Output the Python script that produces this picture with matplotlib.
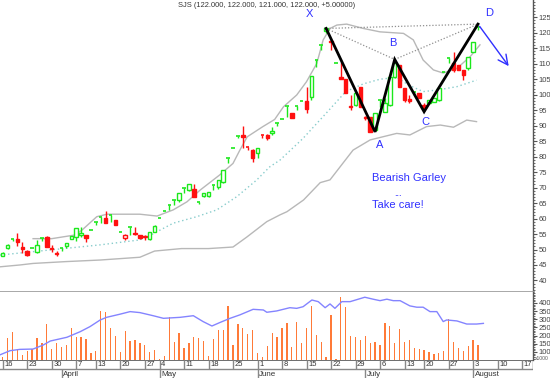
import matplotlib.pyplot as plt
from matplotlib.patches import Rectangle

plt.rcParams['font.family'] = ['Liberation Sans', 'DejaVu Sans']

# ---- daily candles, trading-day index 0..97 ----
opens = [48.0, 50.5, 53.5, 53.4, 50.9, 49.5, 50.6, 49.1, 53.6, 54.1,
         50.6, 49.0, 50.4, 51.1, 53.5, 54.0, 54.8, 54.7, 56.3, 58.8,
         60.6, 60.1, 61.2, 59.5, 55.5, 53.6, 57.2, 55.4, 54.7, 54.3,
         53.3, 55.8, 60.1, 62.5, 64.4, 66.0, 66.0, 69.8, 69.2, 69.4,
         65.4, 67.3, 67.3, 70.8, 70.3, 71.9, 79.5, 82.7, 86.8, 87.0,
         83.2, 82.1, 81.1, 87.0, 87.0, 87.6, 90.8, 92.1, 96.4, 94.0,
         96.4, 98.0, 98.0, 99.4, 111.2, 116.1, 120.5, 117.4, 110.4, 105.6,
         105.0, 96.3, 96.7, 102.4, 92.9, 92.9, 88.6, 98.3, 94.5, 96.7,
         105.8, 109.6, 102.1, 98.5, 101.0, 100.5, 96.7, 97.2, 97.7, 98.3,
         107.2, 111.8, 110.1, 109.6, 108.0, 108.5, 113.9, 122.0]
highs = [49.2, 51.7, 53.5, 55.4, 52.5, 49.7, 50.6, 53.1, 53.6, 54.3,
         51.5, 49.6, 50.4, 52.0, 54.4, 57.0, 57.2, 54.8, 56.3, 58.8,
         60.6, 62.4, 61.2, 59.5, 55.5, 55.0, 57.2, 57.4, 54.7, 54.6,
         55.8, 57.8, 60.1, 62.5, 64.4, 66.0, 68.4, 69.8, 71.2, 71.2,
         65.4, 68.4, 68.7, 70.8, 72.4, 75.7, 79.5, 82.7, 86.8, 89.9,
         83.2, 82.3, 82.9, 87.0, 87.2, 89.7, 90.8, 92.1, 96.4, 94.0,
         96.4, 98.0, 102.6, 106.0, 111.2, 116.1, 121.4, 117.7, 110.4, 110.7,
         105.0, 99.9, 100.5, 102.4, 93.2, 92.9, 94.0, 98.3, 99.0, 105.8,
         111.0, 109.6, 102.1, 99.9, 101.0, 100.5, 97.2, 98.3, 98.8, 102.1,
         107.2, 111.8, 113.9, 109.6, 108.0, 112.1, 117.1, 122.0]
lows = [47.8, 50.3, 52.8, 51.1, 48.9, 47.9, 50.6, 48.8, 52.6, 50.7,
        49.3, 48.0, 49.4, 50.6, 53.5, 52.8, 54.0, 52.5, 56.3, 58.0,
        58.5, 58.5, 59.0, 57.9, 55.5, 53.1, 54.7, 54.7, 53.4, 53.2,
        53.0, 55.6, 60.1, 62.5, 62.8, 64.4, 65.5, 68.2, 69.0, 66.8,
        64.8, 67.0, 67.0, 69.2, 69.5, 71.5, 77.8, 82.7, 86.0, 82.7,
        82.1, 78.2, 79.6, 86.0, 85.5, 87.0, 89.8, 92.1, 92.9, 92.4,
        95.1, 98.0, 94.0, 98.2, 109.0, 114.4, 120.0, 114.4, 110.4, 105.2,
        100.5, 95.1, 96.5, 96.1, 91.8, 88.0, 88.4, 96.1, 94.3, 96.5,
        105.5, 102.6, 97.7, 97.2, 99.9, 98.9, 94.8, 97.0, 97.5, 98.0,
        107.2, 110.1, 107.4, 108.0, 104.8, 108.0, 113.7, 121.0]
closes = [49.0, 51.5, 53.5, 52.5, 50.1, 48.2, 50.6, 51.5, 53.6, 50.9,
          50.3, 48.6, 50.4, 52.0, 54.4, 57.0, 55.2, 53.6, 56.3, 58.8,
          60.6, 58.7, 61.2, 57.9, 55.5, 54.6, 57.2, 55.0, 53.6, 53.9,
          55.8, 57.6, 60.1, 62.5, 64.4, 66.0, 68.4, 69.8, 71.2, 67.1,
          65.4, 68.4, 68.7, 70.8, 72.4, 75.7, 79.5, 82.7, 86.8, 86.2,
          83.0, 79.5, 82.7, 86.8, 85.9, 88.2, 90.8, 92.1, 96.4, 92.4,
          96.4, 98.0, 95.4, 106.0, 111.2, 116.1, 121.4, 117.0, 110.4, 105.2,
          100.5, 96.0, 100.5, 96.1, 92.6, 88.0, 94.0, 98.3, 97.2, 105.8,
          110.1, 102.6, 98.3, 98.1, 101.0, 98.9, 95.6, 98.3, 98.8, 102.1,
          107.2, 111.8, 108.0, 108.0, 106.5, 112.1, 117.1, 122.0]
red_hollow = [25]

volume = [67, 184, 224, 112, 82, 108, 116, 184, 153, 270,
          116, 157, 129, 143, 245, 190, 190, 180, 92, 108,
          351, 347, 245, 198, 98, 230, 165, 171, 153, 143,
          102, 112, 60, 76, 312, 161, 218, 126, 155, 190,
          188, 167, 76, 178, 235, 235, 384, 143, 270, 249,
          210, 233, 92, 71, 137, 218, 192, 245, 280, 129,
          286, 157, 245, 382, 204, 163, 71, 327, 55, 435,
          374, 200, 190, 173, 198, 157, 163, 143, 276, 259,
          157, 239, 163, 173, 122, 116, 112, 102, 88, 96,
          106, 300, 163, 126, 108, 137, 173, 143]

# ---- Bollinger bands (day index, price) ----
upper_x = [6.2, 10, 14.8, 16.2, 19.2, 21.3, 28, 31.5, 34.8, 37.6, 40.3, 44.3,
           47, 48.4, 49.9, 53.1, 55.5, 57.3, 60, 62, 64.1, 65.4, 66.8, 68.2,
           70.2, 73.6, 77, 81.8, 83.8, 85.8, 87.9, 89.9, 92.7, 95.4, 97.4]
upper_y = [53.5, 53.5, 54.7, 56.3, 60.6, 61.4, 61.4, 60.8, 62.8, 65.4, 69.2, 74.1,
           77.8, 82.1, 86.4, 89.7, 92.0, 96.1, 99.9, 104.2, 110.1, 117.7, 121.4, 122.5,
           122.8, 121.4, 120.3, 119.8, 117.7, 111.2, 108.0, 107.0, 108.5, 112.3, 116.1]
mid_x = [-0.6, 6.2, 13.1, 19.9, 28, 30, 34.8, 39.6, 43.7, 47.8, 51.8, 54.5,
         56.6, 61.3, 66, 70, 73.6, 77, 80.4, 83, 85.8, 88.6, 92.7, 96.7]
mid_y = [48.2, 49.3, 50.4, 51.5, 53.1, 54.5, 58.5, 60.6, 62.8, 67.1, 72.4, 76.7,
         78.9, 85.9, 94.0, 101.0, 103.5, 105.0, 105.6, 103.0, 101.0, 101.5, 102.6, 104.7]
lower_x = [-0.6, 3.5, 6.2, 13, 19.9, 25.3, 28, 31, 36.5, 42, 47, 49.8,
           53.9, 56.6, 58, 61.4, 64.8, 66.8, 71.5, 75, 80.4, 83.1, 86.5, 89.3,
           92, 94.7, 96.7]
lower_y = [44.4, 45.0, 45.5, 46.1, 46.6, 47.2, 47.5, 49.5, 50.3, 50.3, 50.8, 54.0,
           59.0, 61.2, 62.2, 66.0, 71.6, 72.5, 82.1, 85.4, 87.5, 87.0, 89.7, 90.2,
           89.5, 91.8, 91.3]

# volume moving average
vma_x = [-0.6, 1.5, 3.5, 6.2, 8.3, 9.7, 13.1, 15.8, 17.8, 19.9, 21.2, 23.9,
         26, 28, 30.7, 32.8, 36.2, 38.9, 40.9, 42.7, 44.3, 46.4, 48.4, 51.1,
         53.2, 53.9, 55.9, 58.6, 60, 61.3, 63.1, 64.4, 65.8, 66.8, 67.8, 69.2,
         70.9, 73.9, 75.6, 77, 78.4, 79.7, 81.1, 83.1, 84.5, 85.8, 87.2, 88.6,
         89.9, 90.6, 92.7, 94.7, 96.7, 98.1]
vma_y = [82, 108, 116, 118, 143, 167, 190, 224, 255, 296, 312, 331,
         347, 341, 322, 306, 312, 322, 286, 259, 280, 306, 327, 361,
         357, 343, 351, 371, 367, 377, 418, 408, 371, 394, 367, 408,
         408, 435, 423, 414, 423, 414, 414, 382, 374, 374, 347, 347,
         286, 296, 290, 271, 271, 275]

# ---- Gartley pattern points ----
pat_lbl = ['X', 'A', 'B', 'C', 'D']
pat_x = [66, 76, 80, 86, 97]
pat_y = [121.4, 88.0, 111.4, 94.5, 122.8]

week_pos = [0, 5, 10, 15, 19, 24, 29, 32, 37, 42, 47, 52, 57, 62, 67, 72, 77,
            82, 86, 91, 96, 101, 106]
week_lbl = ['16', '23', '30', '7', '13', '20', '27', '4', '11', '18', '25', '1',
            '8', '15', '22', '29', '6', '13', '20', '27', '3', '10', '17']
month_pos = [12, 32, 52, 74, 96]
month_lbl = ['April', 'May', 'June', 'July', 'August']

price_ticks = list(range(40, 130, 5))
vol_ticks = [100, 150, 200, 250, 300, 350, 400]

title = 'SJS (122.000, 122.000, 121.000, 122.000, +5.00000)'

W, H = 550, 378
fig = plt.figure(figsize=(W / 100, H / 100), dpi=100)


def box(l, t, r, b):
    return fig.add_axes([l / W, 1 - b / H, (r - l) / W, (b - t) / H])


XL = (-2.7 / 4.9, (533 - 2.7) / 4.9)
GREEN = '#1BE81B'
RED = '#FF1010'
BLUE = '#3030FF'
AXC = '#555555'

ax = box(0, 0, 533, 292)
axv = box(0, 292, 533, 360)
axd = box(0, 360, 533, 378)

# price panel
ax.plot(upper_x, upper_y, color='#B8B8B8', lw=1)
ax.plot(lower_x, lower_y, color='#B8B8B8', lw=1)
ax.plot(mid_x, mid_y, color='#88CCCC', lw=1, ls=(0, (1, 2)))

bw = 0.72
for i in range(len(opens)):
    o, h, l, c = opens[i], highs[i], lows[i], closes[i]
    up = c >= o and i not in red_hollow
    col = GREEN if up else RED
    ax.vlines(i, l, h, color=col, lw=1, zorder=3)
    top, bot = max(o, c), min(o, c)
    if top - bot < 0.25:
        ax.hlines(top, i - bw / 2, i + bw / 2, color=col, lw=1.2, zorder=3)
    else:
        fill = 'white' if (up or i in red_hollow) else col
        ax.add_patch(Rectangle((i - bw / 2, bot), bw, top - bot, facecolor=fill,
                               edgecolor=col, lw=1, zorder=4))

# dotted triangle and pattern legs
X, A, B, C, D = zip(pat_x, pat_y)
for p, q in [(X, D), (X, B), (B, D)]:
    ax.plot([p[0], q[0]], [p[1], q[1]], color='#909090', lw=0.9, ls=(0, (1, 1.5)), zorder=5)
ax.plot(pat_x, pat_y, color='black', lw=2, zorder=6, solid_joinstyle='miter')
ax.annotate('', xy=(103.6, 108.5), xytext=(pat_x[4], pat_y[4]),
            arrowprops=dict(arrowstyle='->,head_length=0.7,head_width=0.35',
                            color=BLUE, lw=1), zorder=6)

lbl_off = [(-3.3, 4.7), (1.0, -4.2), (-0.4, 5.2), (0.2, -3.2), (2.2, 3.5)]
for s, x, y, (dx, dy) in zip(pat_lbl, pat_x, pat_y, lbl_off):
    ax.text(x + dx, y + dy, s, color=BLUE, fontsize=8, ha='center', va='center', zorder=7)

ax.text(75.3, 73.1, 'Bearish Garley', color=BLUE, fontsize=8, ha='left', va='center')
ax.text(80.7, 68.0, '...', color=BLUE, fontsize=6.5, ha='center', va='center')
ax.text(75.3, 64.4, 'Take care!', color=BLUE, fontsize=8, ha='left', va='center')

ax.text(0.5, 0.982, title, transform=ax.transAxes, fontsize=5.4, color='#333333',
        ha='center', va='center')

ax.set_xlim(XL)
ax.set_ylim(125 - (292 - 17.3) / 3.096, 125 + 17.3 / 3.096)
ax.set_yticks(price_ticks)
ax.set_yticks(range(37, 131), minor=True)

# volume panel
axv.bar(range(len(volume)), volume, width=0.25, color='#FF7A38', zorder=2)
axv.plot(vma_x, vma_y, color='#8484FF', lw=1, zorder=3)
axv.set_xlim(XL)
axv.set_ylim(51, 467)
axv.set_yticks(vol_ticks)
axv.set_yticks(range(60, 470, 10), minor=True)
axv.text(1.004, 0.02, 'x1000', transform=axv.transAxes, fontsize=3.6, color=AXC,
         ha='left', va='center')

for a in (ax, axv):
    a.set_xticks([])
    for s in ('left', 'top', 'bottom'):
        a.spines[s].set_visible(False)
    a.spines['right'].set_color(AXC)
    a.spines['right'].set_linewidth(1)
    a.yaxis.tick_right()
    a.tick_params(axis='y', which='major', direction='out', length=3, width=0.8,
                  color=AXC, labelsize=5.5, labelcolor='#444444', pad=1)
    a.tick_params(axis='y', which='minor', direction='out', length=1.5, width=0.6,
                  color=AXC)
ax.spines['bottom'].set_visible(True)
ax.spines['bottom'].set_color('#A0A0A0')
ax.spines['bottom'].set_linewidth(2)

# date rows
axd.set_xlim(XL)
axd.set_ylim(0, 1)
axd.axis('off')
axd.axhline(1, color=AXC, lw=1.2)
axd.axhline(0.5, color='#888888', lw=1)
axd.vlines(XL[1], 0.5, 1, color=AXC, lw=1)
for p, s in zip(week_pos, week_lbl):
    axd.vlines(p, 0.5, 1, color='#888888', lw=1)
    axd.text(p + 0.3, 0.75, s, fontsize=5.5, color='#333333', ha='left', va='center')
for p, s in zip(month_pos, month_lbl):
    axd.vlines(p, 0, 0.5, color='#888888', lw=1)
    axd.text(p + 0.3, 0.22, s, fontsize=5.8, color='#333333', ha='left', va='center')

fig.savefig('out.png', dpi=100)
